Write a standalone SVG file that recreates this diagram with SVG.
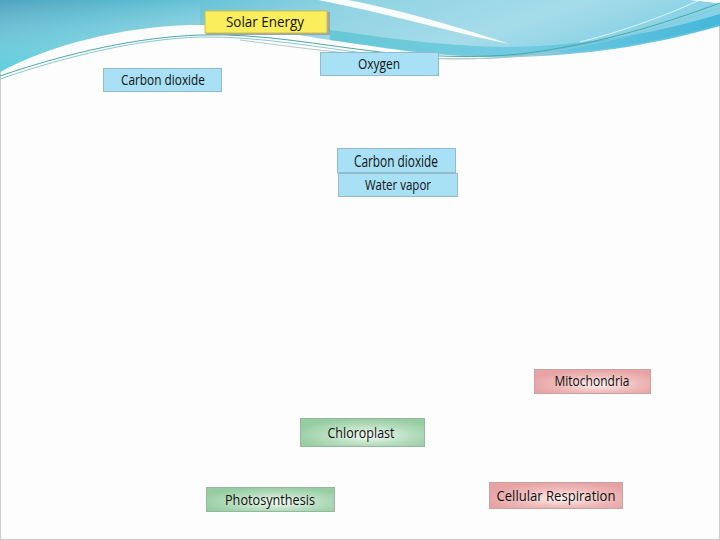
<svg xmlns="http://www.w3.org/2000/svg" width="720" height="540" viewBox="0 0 720 540">
<defs>
<linearGradient id="tealL" x1="0" y1="0" x2="1" y2="0.3">
<stop offset="0" stop-color="#4fa4bf"/>
<stop offset="0.2" stop-color="#5dbdd2"/>
<stop offset="0.45" stop-color="#8fd3e3"/>
<stop offset="0.75" stop-color="#a6dce9"/>
<stop offset="1" stop-color="#7fcfe6"/>
</linearGradient>
<linearGradient id="tealV" x1="0" y1="0" x2="0" y2="1">
<stop offset="0" stop-color="#ffffff" stop-opacity="0"/>
<stop offset="1" stop-color="#52d6de" stop-opacity="0.6"/>
</linearGradient>
<linearGradient id="band" x1="0" y1="0" x2="1" y2="0">
<stop offset="0" stop-color="#5ec6d2"/>
<stop offset="0.5" stop-color="#6cc8e2"/>
<stop offset="1" stop-color="#3ab3d6"/>
</linearGradient>
<radialGradient id="pink" cx="0.55" cy="0.6" r="0.6">
<stop offset="0" stop-color="#fdf3f0"/>
<stop offset="0.6" stop-color="#eeb9b8"/>
<stop offset="1" stop-color="#e7a3a4"/>
</radialGradient>
<radialGradient id="green" cx="0.55" cy="0.6" r="0.6">
<stop offset="0" stop-color="#f4faf5"/>
<stop offset="0.6" stop-color="#b5dcbd"/>
<stop offset="1" stop-color="#97cda3"/>
</radialGradient>
<style>
.t{font-family:"Open Sans","Liberation Sans",sans-serif;fill:#111111;text-anchor:middle}
.blue{fill:#a8e1f5;stroke:#93bccb;stroke-width:1}
.pk{fill:url(#pink);stroke:#c9a2a2;stroke-width:1}
.gr{fill:url(#green);stroke:#95b79b;stroke-width:1}
.sh{fill:#9aa6ab}
.ln{fill:none;stroke-width:1}
</style>
</defs>
<rect x="0" y="0" width="720" height="540" fill="#fdfdfd"/>
<rect x="0.5" y="0.5" width="719" height="539" fill="none" stroke="#c8cccc" stroke-width="1"/>
<!-- top wave decoration -->
<path d="M0,0 H720 V24 C650,44 580,56 500,56 C430,56 380,46 330,40 C280,32 240,24 190,25 C120,27 50,45 0,72 Z" fill="url(#tealL)"/>
<path d="M0,0 H200 V25 C120,27 50,45 0,72 Z" fill="url(#tealV)"/>
<path d="M330,30 C400,40 450,46 505,47 C590,46 660,32 720,14 V26 C650,46 580,57 500,57 C430,57 380,47 330,40 Z" fill="url(#band)" opacity="0.85"/>
<path d="M318,0 C390,14 450,32 510,44 C460,28 410,12 348,0 Z" fill="#ffffff" opacity="0.95"/>
<path d="M690,0 H720 V4 C712,2 700,1 690,0 Z" fill="#ffffff"/>
<path d="M700,0 C660,18 620,32 580,42" fill="none" stroke="#ffffff" stroke-width="1" opacity="0.7"/>
<g class="ln">
<path d="M0,76 C70,52 140,37 200,35 C260,33 320,45 380,52 C430,57 480,58 520,54 C600,44 660,25 720,3" stroke="#4ba9a0"/>
<path d="M0,79 C70,55 140,39 200,37 C260,36 320,48 380,55 C430,60 480,60 520,56 C600,46 660,28 720,8" stroke="#89c9d4"/>
<path d="M240,40 C300,48 360,56 420,58 C470,60 520,58 560,52" stroke="#b9c6c8"/>
</g>
<g id="connectors"></g>
<g id="solar-energy">
<rect x="206" y="12" width="124" height="23" class="sh"/>
<rect x="205" y="11" width="122" height="22" fill="#fbee5c" stroke="#c9be4a" stroke-width="1"/>
<text x="265" y="27" class="t" font-size="15" textLength="78" lengthAdjust="spacingAndGlyphs">Solar Energy</text>
</g>
<g id="carbon-dioxide-1">
<rect x="103.5" y="68.5" width="118" height="23" class="blue"/>
<text x="163" y="85" class="t" font-size="14" textLength="84" lengthAdjust="spacingAndGlyphs">Carbon dioxide</text>
</g>
<g id="oxygen">
<rect x="320.5" y="52.5" width="118" height="23" class="blue"/>
<text x="379" y="68.5" class="t" font-size="14" textLength="42" lengthAdjust="spacingAndGlyphs">Oxygen</text>
</g>
<g id="carbon-dioxide-2">
<rect x="337.5" y="148.5" width="118" height="24" class="blue"/>
<text x="396" y="167" class="t" font-size="16" textLength="84" lengthAdjust="spacingAndGlyphs">Carbon dioxide</text>
</g>
<g id="water-vapor">
<rect x="338.5" y="173.5" width="119" height="23" class="blue"/>
<text x="398" y="189.5" class="t" font-size="14" textLength="66" lengthAdjust="spacingAndGlyphs">Water vapor</text>
</g>
<g id="mitochondria">
<rect x="534.5" y="369.5" width="116" height="24" class="pk"/>
<text x="592" y="386" class="t" font-size="14" textLength="75" lengthAdjust="spacingAndGlyphs">Mitochondria</text>
</g>
<g id="chloroplast">
<rect x="300.5" y="418.5" width="124" height="28" class="gr"/>
<text x="361" y="437.5" class="t" font-size="15" textLength="67" lengthAdjust="spacingAndGlyphs">Chloroplast</text>
</g>
<g id="photosynthesis">
<rect x="206.5" y="487.5" width="128" height="24" class="gr"/>
<text x="270" y="504.5" class="t" font-size="14" textLength="90" lengthAdjust="spacingAndGlyphs">Photosynthesis</text>
</g>
<g id="cellular-respiration">
<rect x="489.5" y="482.5" width="133" height="26" class="pk"/>
<text x="556" y="500.5" class="t" font-size="15" textLength="119" lengthAdjust="spacingAndGlyphs">Cellular Respiration</text>
</g>
</svg>
